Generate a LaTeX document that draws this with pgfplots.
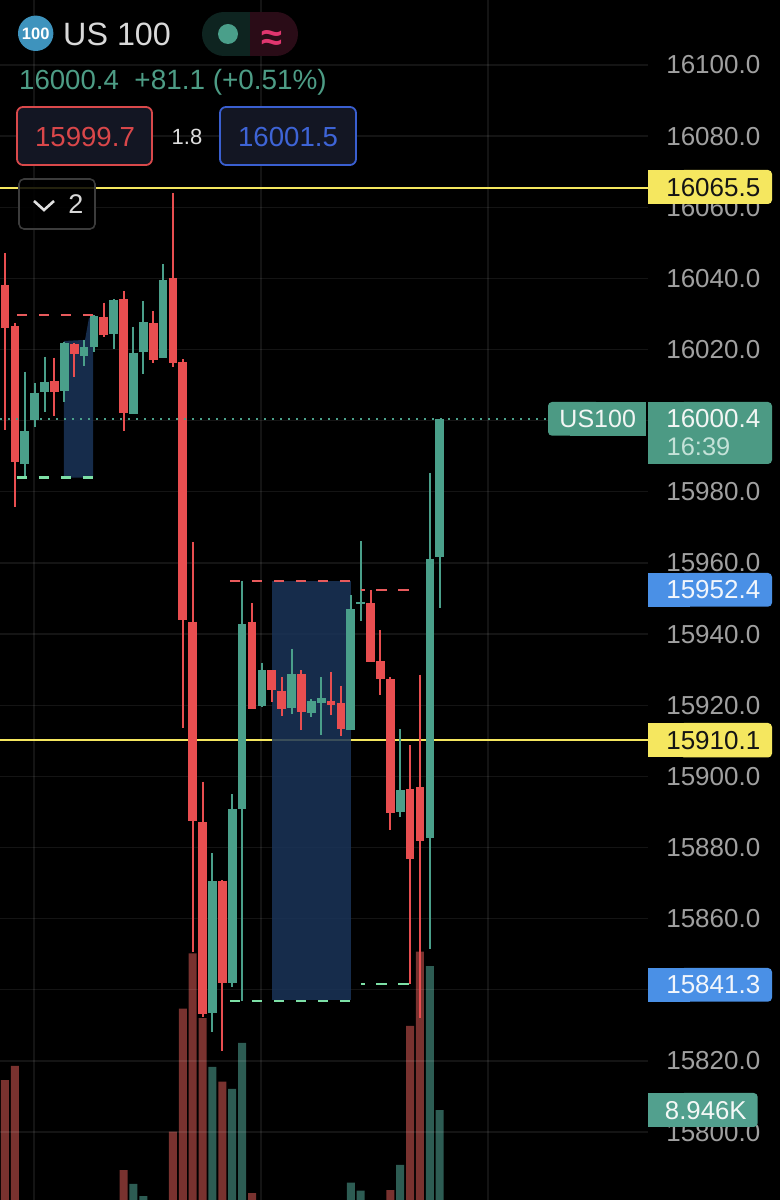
\documentclass[border=0pt]{standalone}
\usepackage{fontspec}
\setmainfont{Liberation Sans}
\usepackage{pgfplots}
\usepackage{pgfplotstable}
\pgfplotsset{compat=1.18}
\definecolor{cr}{HTML}{E84E50}
\definecolor{cg}{HTML}{4A9F8A}
\definecolor{vr}{HTML}{79322F}
\definecolor{vg}{HTML}{2D5C53}
\definecolor{zone}{HTML}{1A3459}
\definecolor{yl}{HTML}{F5E75F}
\definecolor{dr}{HTML}{E85A5C}
\definecolor{dg}{HTML}{7DE0A6}
\definecolor{lab}{HTML}{A0A0A0}
\definecolor{boxg}{HTML}{4C9A84}
\definecolor{boxb}{HTML}{4A90E6}
\definecolor{boxv}{HTML}{52A08E}
\definecolor{badge}{HTML}{3E93BD}
\definecolor{pillg}{HTML}{0E2420}
\definecolor{pillr}{HTML}{2A0C17}
\definecolor{panel}{HTML}{131623}
\definecolor{bordr}{HTML}{D9494B}
\definecolor{bordb}{HTML}{3A5FD0}
\definecolor{bordk}{HTML}{3C3C3C}
\definecolor{chev}{HTML}{E0E0E0}
% i high bodytop bodybottom low
\pgfplotstableread{
i high top bot low
2 16013.8 15997.0 15987.7 15983.8
3 16010.5 16007.9 16000.2 15998.3
4 16018.0 16011.0 16008.0 16002.5
6 16022.2 16021.8 16008.3 16005.3
8 16022.7 16020.6 16018.2 16015.5
9 16029.7 16029.4 16020.6 16019.4
11 16034.1 16033.9 16024.5 16020.2
13 16026.4 16019.1 16001.8 16001.8
14 16033.6 16027.7 16019.2 16013.1
16 16044.1 16039.6 16017.5 16017.5
21 15878.4 15870.6 15833.6 15828.2
23 15895.0 15890.8 15842.0 15840.7
24 15955.0 15942.8 15890.8 15836.9
26 15932.0 15929.9 15919.8 15919.5
29 15935.9 15928.7 15919.1 15917.6
31 15921.7 15921.1 15917.9 15916.8
32 15928.0 15921.9 15920.7 15911.6
35 15951.0 15947.0 15912.9 15912.9
36 15966.1 15949.1 15948.4 15943.8
40 15913.3 15896.2 15890.1 15888.7
43 15985.3 15961.2 15882.8 15851.5
44 16000.5 16000.5 15961.8 15947.2
}\greenT
\pgfplotstableread{
i high top bot low
0 16047.1 16038.2 16026.0 15997.4
1 16027.5 16026.6 15988.5 15975.7
5 16017.7 16011.2 16008.1 16001.3
7 16021.8 16021.6 16018.6 16012.4
10 16033.2 16029.1 16024.1 16023.6
12 16036.5 16034.1 16002.2 15997.2
15 16030.8 16027.4 16017.1 16016.1
17 16064.0 16040.1 16016.1 16015.0
18 16017.3 16016.5 15944.0 15913.6
19 15965.9 15943.5 15887.5 15850.7
20 15898.5 15887.1 15833.1 15832.4
22 15870.8 15870.6 15841.9 15822.8
25 15948.7 15943.4 15918.9 15918.9
27 15929.9 15929.9 15924.3 15920.8
28 15927.9 15924.1 15918.9 15917.0
30 15929.9 15928.7 15918.1 15913.0
33 15929.4 15921.3 15920.2 15917.2
34 15925.5 15920.6 15913.3 15911.4
37 15952.4 15948.8 15932.1 15932.1
38 15941.2 15932.4 15927.3 15922.8
39 15928.0 15927.3 15889.8 15884.9
41 15908.8 15896.4 15876.9 15841.6
42 15928.6 15896.9 15881.9 15832.0
}\redT
% volume in thousands
\pgfplotstableread{
i v
13 3.43
14 2.53
21 12.17
23 10.53
24 13.96
35 3.53
36 2.93
40 4.85
43 19.68
44 8.946
}\volG
\pgfplotstableread{
i v
0 11.18
1 12.23
12 4.47
17 7.33
18 16.50
19 20.63
20 15.80
22 11.06
25 2.74
39 2.98
41 15.21
42 20.75
}\volR
\newcommand{\fs}[1]{\fontsize{#1}{#1}\selectfont}
% right-hand price tag: top, bottom, right edge, colour
\newcommand{\tagbox}[4]{%
  \fill[#4,rounded corners=4pt] (680,#1) rectangle (#3,#2);
  \fill[#4] (648,#1) rectangle (690,#2);}
\pgfplotsset{
  candleaxis/.style={
    at={(0pt,0pt)},anchor=south west,scale only axis,width=648pt,height=1200pt,
    xmin=-0.506,xmax=65.08},
  wick/.style={draw=none,forget plot,
    error bars/y dir=minus,error bars/y explicit,error bars/error mark=none,
    error bars/error bar style={draw=#1,line width=2pt}},
  body/.style={draw=none,forget plot,
    error bars/y dir=minus,error bars/y explicit,error bars/error mark=none,
    error bars/error bar style={draw=#1,line width=8.7pt}},
  dash/.style={#1,line width=2.2pt,dash pattern=on 10.5pt off 11.5pt},
  dashlate/.style={#1,line width=2.2pt,dash pattern=on 10.5pt off 11.5pt,dash phase=6.5pt},
}
\begin{document}
\begin{tikzpicture}[x=1pt,y=1pt]
\useasboundingbox (0,0) rectangle (780,1200);
\fill[black] (0,0) rectangle (780,1200);
% volume pane
\begin{axis}[candleaxis,hide axis,ymin=2.2365,ymax=91.70,ybar,bar width=8pt,bar shift=0pt]
\addplot[fill=vr,draw=none] table[x=i,y=v]{\volR};
\addplot[fill=vg,draw=none] table[x=i,y=v]{\volG};
\end{axis}
% price pane
\begin{axis}[candleaxis,ymin=15780.9,ymax=16118.27,
  axis line style={draw=none},tick style={draw=none},
  xtick={2.94,25.91,48.89},xticklabel=\empty,
  ytick={15780,15800,...,16100},
  grid=major,grid style={white,opacity=0.08,line width=1.3pt},
  yticklabel pos=right,scaled y ticks=false,
  y tick label style={anchor=east,xshift=112.5pt,inner sep=0pt,text=lab,font=\fs{26},
    /pgf/number format/fixed,/pgf/number format/fixed zerofill,/pgf/number format/precision=1,
    /pgf/number format/1000 sep={},/pgf/number format/assume math mode=true},
]
\addplot[yl,line width=2pt] coordinates {(-0.506,16065.5)(65.08,16065.5)};
\addplot[yl,line width=2pt] coordinates {(-0.506,15910.1)(65.08,15910.1)};
\addplot[fill=zone,draw=none,fill opacity=0.85] coordinates {(5.97,16022.4)(8.10,16022.7)(8.50,16028.9)(8.91,16028.9)(8.91,15984.0)(5.97,15984.0)} --cycle;
\addplot[fill=zone,draw=none,fill opacity=0.85] coordinates {(26.99,15955.0)(34.99,15955.0)(34.99,15837.1)(26.99,15837.1)} --cycle;
\addplot[wick=cg] table[x=i,y=high,y error minus expr=\thisrow{high}-\thisrow{low}]{\greenT};
\addplot[wick=cr] table[x=i,y=high,y error minus expr=\thisrow{high}-\thisrow{low}]{\redT};
\addplot[body=cg] table[x=i,y=top,y error minus expr=\thisrow{top}-\thisrow{bot}]{\greenT};
\addplot[body=cr] table[x=i,y=top,y error minus expr=\thisrow{top}-\thisrow{bot}]{\redT};
\addplot[dash=dr] coordinates {(1.21,16029.8)(8.91,16029.8)};
\addplot[dash=dg] coordinates {(1.21,15984.0)(8.91,15984.0)};
\addplot[dash=dr] coordinates {(22.77,15955.0)(35.02,15955.0)};
\addplot[dash=dg] coordinates {(22.77,15836.9)(35.02,15836.9)};
\addplot[dashlate=dr] coordinates {(36.03,15952.5)(40.99,15952.5)};
\addplot[dashlate=dg] coordinates {(36.03,15841.6)(40.99,15841.6)};
\addplot[cg,line width=1.6pt,dash pattern=on 2pt off 6pt] coordinates {(-0.506,16000.4)(54.96,16000.4)};
\end{axis}
% interface chrome, in pixel positions (y downwards)
\begin{scope}[yshift=1200pt,y=-1pt]
\fill[badge] (35.7,33.3) circle (17.7);
\node[text=white,inner sep=0pt,font=\bfseries\fs{16.5}] at (35.7,33.5) {100};
\node[anchor=west,inner sep=0pt,text=white!85!black,font=\fs{32.3}] at (63,34) {US 100};
\begin{scope}
\clip[rounded corners=22pt] (202,12) rectangle (298,56);
\fill[pillg] (202,12) rectangle (250,56);
\fill[pillr] (250,12) rectangle (298,56);
\end{scope}
\fill[cg] (228,34) circle (10);
\node[inner sep=0pt,font=\bfseries\fs{38}] at (272,41) {\color[HTML]{E0366F}≈};
\node[anchor=base west,inner sep=0pt,font=\fs{27.6}] at (19,89.5) {\color[HTML]{4D9C85}16000.4};
\node[anchor=base east,inner sep=0pt,font=\fs{27.9}] at (327,89.5) {\color[HTML]{4D9C85}+81.1 (+0.51\%)};
\draw[bordr,fill=panel,line width=1.8pt,rounded corners=6pt] (17,107) rectangle (152,165);
\node[inner sep=0pt,font=\fs{27.6}] at (85,137) {\color[HTML]{D9474A}15999.7};
\node[inner sep=0pt,font=\fs{22}] at (187,137) {\color[HTML]{DDDDDD}1.8};
\draw[bordb,fill=panel,line width=1.8pt,rounded corners=6pt] (220,107) rectangle (356,165);
\node[inner sep=0pt,font=\fs{27.6}] at (288,137) {\color[HTML]{3E64D6}16001.5};
\draw[bordk,fill=black,fill opacity=0.85,line width=1.6pt,rounded corners=5pt] (19,179) rectangle (95,229);
\draw[chev,line width=2.6pt] (34,201) -- (44,210) -- (54,201);
\node[inner sep=0pt,font=\fs{27}] at (76,204) {\color[HTML]{D8D8D8}2};
% price tags
\tagbox{170}{204}{772}{yl}
\node[anchor=east,inner sep=0pt,font=\fs{26}] at (760.5,187.5) {\color[HTML]{141414}16065.5};
\tagbox{723}{757.5}{772}{yl}
\node[anchor=east,inner sep=0pt,font=\fs{26}] at (760.5,740.5) {\color[HTML]{141414}15910.1};
\tagbox{573}{606.7}{772}{boxb}
\node[anchor=east,inner sep=0pt,font=\fs{26}] at (760.5,590) {\color[HTML]{F2F6FC}15952.4};
\tagbox{968}{1001.7}{772}{boxb}
\node[anchor=east,inner sep=0pt,font=\fs{26}] at (760.5,985) {\color[HTML]{F2F6FC}15841.3};
\tagbox{402}{464}{772}{boxg}
\node[anchor=east,inner sep=0pt,font=\fs{26}] at (760.5,419) {\color[HTML]{F2F6F4}16000.4};
\node[anchor=west,inner sep=0pt,font=\fs{25.4}] at (666.5,447) {\color[HTML]{C4E2D8}16:39};
\fill[boxg,rounded corners=4pt] (548,402) rectangle (600,435.7);
\fill[boxg] (570,402) rectangle (646,435.7);
\node[inner sep=0pt,font=\fs{25}] at (597.7,419) {\color[HTML]{F2F6F4}US100};
\tagbox{1093}{1127}{757.7}{boxv}
\node[inner sep=0pt,font=\fs{25.8}] at (705.8,1110.5) {\color[HTML]{F4F8F6}8.946K};
\end{scope}
\end{tikzpicture}
\end{document}
